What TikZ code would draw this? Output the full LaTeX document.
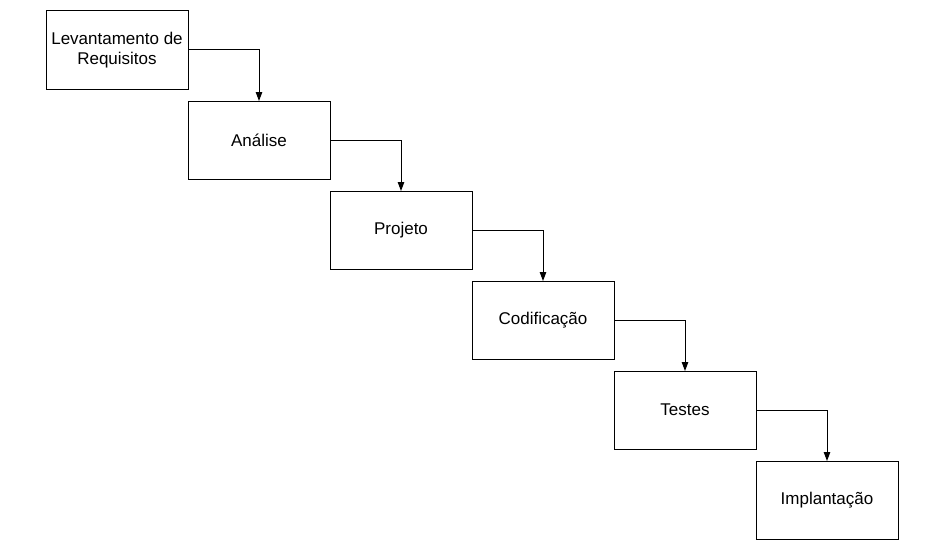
\documentclass[tikz,border=0pt]{standalone}
\usepackage{fontspec}
\setmainfont{Liberation Sans}
\usetikzlibrary{arrows.meta, positioning}
\tikzstyle{phase} = [rectangle, minimum width=142pt, minimum height=78pt, outer sep=0pt, align=center, draw=black, line width=1pt, font=\fontsize{17}{20.5}\selectfont]
\tikzstyle{arrow} = [line width=1pt, -{Triangle[length=9pt,width=6.5pt]}]

\begin{document}
\begin{tikzpicture}[x=1pt, y=-1pt, node distance=12pt and 0pt]
      \useasboundingbox (0,0) rectangle (950,551);
      \node (lev) [phase] at (117,50) {Levantamento de\\Requisitos};
      \node (ana) [phase, below right=of lev.south east, anchor=north west] {Análise};
      \node (proj) [phase, below right=of ana.south east, anchor=north west] {Projeto};
      \node (cod) [phase, below right=of proj.south east, anchor=north west] {Codificação};
      \node (test) [phase, below right=of cod.south east, anchor=north west] {Testes};
      \node (impl) [phase, below right=of test.south east, anchor=north west] {Implantação};

      \draw [arrow] (lev.east) -| (ana.north);
      \draw [arrow] (ana.east) -| (proj.north);
      \draw [arrow] (proj.east) -| (cod.north);
      \draw [arrow] (cod.east) -| (test.north);
      \draw [arrow] (test.east) -| (impl.north);
    \end{tikzpicture}
\end{document}
